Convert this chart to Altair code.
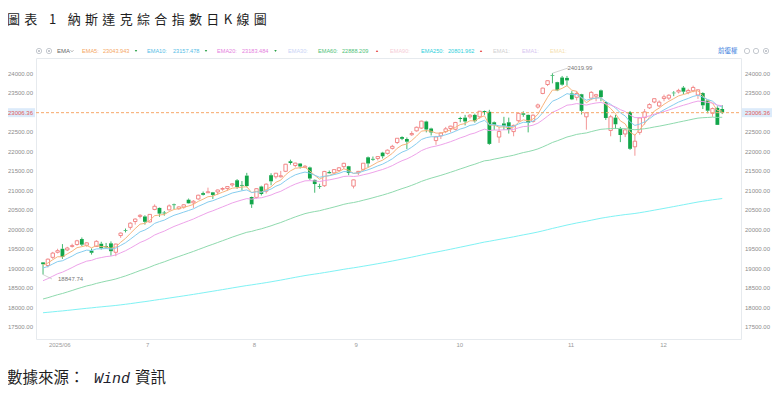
import altair as alt
import pandas as pd

# ---------------- data ----------------
opens = [19160, 19080, 19290, 19420, 19510, 19480, 19570, 19620, 19760, 19600,
         19460, 19570, 19640, 19580, 19650, 19420, 19850, 19990, 20060, 20210,
         20340, 20340, 20200, 20520, 20560, 20440, 20510, 20650, 20540, 20580,
         20770, 20690, 20790, 20940, 20950, 20960, 20970, 21040, 21060, 21150,
         21270, 21150, 21390, 20840, 20830, 21110, 20990, 21400, 21360, 21360,
         21500, 21760, 21650, 21700, 21600, 21600, 21280, 21120, 21130, 21480,
         21460, 21520, 21620, 21630, 21120, 21460, 21550, 21860, 21820, 21830,
         21980, 21960, 22090, 22240, 22380, 22330, 22440, 22540, 22610, 22780,
         22600, 22290, 22410, 22520, 22600, 22580, 22870, 22880, 22900, 22950,
         22900, 23050, 23030, 22760, 22380, 22730, 22760, 22520, 22800, 22990,
         22950, 22780, 23150, 23500, 23730, 23975, 23790, 23910, 23900, 23500,
         23400, 23480, 22900, 23380, 23430, 23580, 23280, 22550, 22880, 22600,
         22460, 23020, 22130, 22500, 22880, 23130, 23280, 23180, 23370, 23380,
         23520, 23540, 23650, 23530, 23570, 23460, 23510, 23320, 22990, 23130,
         23100]
highs = [19170, 19260, 19430, 19510, 19630, 19560, 19640, 19740, 19800, 19680,
         19520, 19730, 19690, 19660, 19700, 19640, 19930, 20030, 20190, 20290,
         20400, 20370, 20400, 20650, 20570, 20480, 20650, 20670, 20600, 20660,
         20800, 20760, 20900, 20980, 21080, 20970, 21030, 21090, 21110, 21200,
         21300, 21250, 21460, 20850, 21070, 21130, 21190, 21450, 21460, 21510,
         21690, 21800, 21720, 21710, 21660, 21620, 21290, 21180, 21510, 21520,
         21550, 21610, 21720, 21640, 21290, 21510, 21710, 21880, 21880, 21890,
         22000, 22060, 22180, 22350, 22400, 22370, 22530, 22650, 22800, 22800,
         22620, 22410, 22500, 22640, 22670, 22770, 22900, 22950, 22970, 22980,
         23050, 23060, 23080, 22780, 22640, 22900, 22880, 22700, 23000, 23040,
         22960, 22960, 23240, 23650, 23840, 24019.99, 23800, 23950, 23950, 23560,
         23560, 23490, 23010, 23560, 23490, 23600, 23290, 22950, 22950, 22640,
         22600, 23050, 22450, 22890, 23100, 23250, 23370, 23320, 23470, 23480,
         23560, 23620, 23690, 23620, 23700, 23600, 23530, 23340, 23140, 23170,
         23200]
lows = [18847.74, 19030, 19250, 19390, 19250, 19450, 19540, 19590, 19580, 19560,
        19360, 19560, 19490, 19520, 19330, 19320, 19790, 19930, 20000, 20130,
        20290, 20130, 20180, 20500, 20330, 20360, 20500, 20530, 20510, 20540,
        20670, 20560, 20770, 20880, 20940, 20790, 20890, 21000, 21000, 21100,
        21050, 21010, 21090, 20560, 20800, 20880, 20930, 21140, 21310, 21340,
        21480, 21670, 21600, 21570, 21580, 21280, 20950, 21050, 21100, 21440,
        21420, 21500, 21560, 21400, 21060, 21400, 21500, 21600, 21770, 21780,
        21830, 21930, 22060, 22200, 22300, 22070, 22410, 22520, 22590, 22500,
        22420, 22180, 22330, 22480, 22500, 22550, 22760, 22680, 22850, 22750,
        22850, 22950, 22180, 22560, 22230, 22560, 22470, 22400, 22770, 22900,
        22500, 22750, 23110, 23480, 23690, 23760, 23560, 23700, 23700, 23330,
        23320, 22960, 22570, 23330, 23300, 23300, 22820, 22400, 22590, 22250,
        22380, 22050, 21900, 22440, 22700, 23100, 23250, 23150, 23300, 23330,
        23430, 23500, 23480, 23480, 23530, 23360, 23100, 22990, 22900, 22690,
        22970]
closes = [19113.77, 19242.61, 19398.96, 19460.49, 19298.45, 19529.95, 19591.24, 19714.99, 19615.88, 19662.49,
          19406.83, 19701.21, 19521.09, 19546.27, 19447.41, 19630.97, 19912.53, 19973.55, 20167.91, 20273.46,
          20369.73, 20202.89, 20393.13, 20601.10, 20412.52, 20418.46, 20611.34, 20630.67, 20585.53, 20640.33,
          20677.80, 20730.49, 20885.65, 20895.66, 20974.17, 20892.69, 21020.02, 21057.96, 21108.32, 21178.58,
          21098.29, 21129.67, 21122.45, 20650.13, 21053.58, 20916.55, 21169.42, 21242.70, 21450.02, 21385.40,
          21681.90, 21713.14, 21710.67, 21622.98, 21629.77, 21314.95, 21172.86, 21100.31, 21496.54, 21449.29,
          21544.27, 21590.14, 21705.16, 21455.55, 21279.63, 21497.73, 21707.69, 21700.39, 21798.70, 21879.49,
          21886.06, 22043.07, 22141.10, 22348.75, 22333.96, 22261.33, 22470.73, 22631.48, 22788.98, 22573.47,
          22497.86, 22384.70, 22484.07, 22591.15, 22660.01, 22755.16, 22844.05, 22780.51, 22941.67, 22788.36,
          23043.38, 23024.63, 22204.43, 22694.61, 22521.70, 22670.08, 22562.54, 22679.97, 22990.54, 22953.67,
          22740.40, 22941.80, 23204.87, 23637.46, 23827.49, 23958.47, 23581.14, 23724.96, 23834.72, 23348.64,
          23499.80, 23053.99, 23004.54, 23527.17, 23468.30, 23406.46, 22870.36, 22900.59, 22708.07, 22432.85,
          22564.23, 22078.05, 22273.08, 22872.01, 23025.59, 23214.69, 23365.69, 23275.92, 23413.67, 23454.09,
          23505.14, 23578.13, 23545.90, 23576.49, 23654.16, 23593.86, 23195.17, 23057.41, 23111.46, 22693.32,
          23006.36]

month_starts = [1, 21, 43, 64, 85, 108, 127]          # trading-day index of each month's first session
month_labels = ["2025/06", "7", "8", "9", "10", "11", "12"]
price_ticks = [17500, 18000, 18500, 19000, 19500, 20000, 20500,
               21000, 21500, 22000, 22500, 23000, 23500, 24000]

ema_names = ["EMA5", "EMA10", "EMA20", "EMA60", "EMA250"]
ema_periods = [5, 10, 20, 60, 250]
ema_first = [19093, 19015, 18690, 18220, 17867]       # EMA level on the first candle

legend_names = ["EMA5:", "EMA10:", "EMA20:", "EMA30:", "EMA60:", "EMA90:", "EMA250:", "EMA1:", "EMA1:", "EMA1:"]
legend_values = ["23043.943", "23157.478", "23183.484", "", "22888.209", "", "20801.962", "", "", ""]

# ---------------- styling / layout ----------------
W, H = 705, 281
RED = "#f07c7c"
GREEN = "#12a64a"
GRID = "#eff2f5"
AXC = "#8c8c8c"
ema_colors = ["#f8b47c", "#86cdef", "#eea3ea", "#8fdaae", "#7ff2f4"]
legend_colors = ["#f5a764", "#56bde6", "#e580de", "#c9d3f5", "#4fbf79", "#f5cdd6", "#2fd0dc", "#d0d0d0", "#d6c6f0", "#f5dfb0"]
legend_name_x = [46, 111, 181, 252, 282, 354, 385, 457, 486, 514]
legend_value_x = [67, 137, 206, None, 306, None, 412, None, None, None]
HDR_Y = -7
CJK = "Noto Sans CJK TC"
LAT = "Liberation Sans"

xs = alt.Scale(domain=[-0.42, 142.84], nice=False, zero=False)
ys = alt.Scale(domain=[17192, 24411], nice=False, zero=False)

n = len(closes)
df = pd.DataFrame({"i": list(range(n)), "open": opens, "high": highs, "low": lows, "close": closes})
df["top"] = df[["open", "close"]].max(axis=1)
df["bot"] = df[["open", "close"]].min(axis=1)
df["dir"] = ["up" if c >= o else "down" for o, c in zip(opens, closes)]

# exponential moving averages of the closes
ema_frames = {}
for name, p, start in zip(ema_names, ema_periods, ema_first):
    a = 2.0 / (p + 1)
    vals = []
    v = start
    for k, c in enumerate(closes):
        if k > 0:
            v = a * c + (1 - a) * v
        vals.append(v)
    ema_frames[name] = pd.DataFrame({"i": list(range(n)), "ema": vals})

X = lambda f="i": alt.X(f"{f}:Q", scale=xs, axis=None)
Y = lambda f: alt.Y(f"{f}:Q", scale=ys, axis=None)

base = alt.Chart(df)

# grid carrier (invisible marks)
axes = base.mark_point(opacity=0).encode(
    x=alt.X("i:Q", scale=xs,
            axis=alt.Axis(values=month_starts, grid=True, gridColor=GRID, labels=False,
                          ticks=False, domain=False, title=None)),
    y=alt.Y("close:Q", scale=ys,
            axis=alt.Axis(values=price_ticks, grid=True, gridColor=GRID, labels=False,
                          ticks=False, domain=False, title=None)),
)

layers = [axes]
for d, col in [("up", RED), ("down", GREEN)]:
    sub = base.transform_filter(alt.datum.dir == d)
    layers.append(sub.mark_rule(color=col, strokeWidth=0.8).encode(x=X(), y=Y("high"), y2="top:Q"))
    layers.append(sub.mark_rule(color=col, strokeWidth=0.8).encode(x=X(), y=Y("bot"), y2="low:Q"))
    if d == "up":
        layers.append(sub.mark_bar(size=3.4, fill="white", stroke=col, strokeWidth=0.9)
                      .encode(x=X(), y=Y("open"), y2="close:Q"))
    else:
        layers.append(sub.mark_bar(size=3.8, color=col).encode(x=X(), y=Y("open"), y2="close:Q"))

for name, col in zip(ema_names, ema_colors):
    layers.append(alt.Chart(ema_frames[name]).mark_line(color=col, strokeWidth=1)
                  .encode(x=X(), y=Y("ema")))

# price labels on both sides
side_ticks = pd.DataFrame({"v": [t for t in price_ticks if t != 23000]})
tc = alt.Chart(side_ticks)
layers += [
    tc.mark_text(align="right", baseline="middle", fontSize=6, color=AXC, font=LAT)
      .encode(y=Y("v"), x=alt.value(-3), text=alt.Text("v:Q", format=".2f")),
    tc.mark_text(align="left", baseline="middle", fontSize=6, color=AXC, font=LAT)
      .encode(y=Y("v"), x=alt.value(W + 4), text=alt.Text("v:Q", format=".2f")),
]

# last price line and tags
last = pd.DataFrame({"v": [closes[-1]]})
lc = alt.Chart(last)
layers += [
    lc.mark_rule(color="#f7a768", strokeDash=[3, 2], strokeWidth=1).encode(y=Y("v"), x=alt.value(0), x2=alt.value(W)),
    lc.mark_rule(color="#dcebfa", strokeWidth=9, strokeCap="butt").encode(y=Y("v"), x=alt.value(-31), x2=alt.value(-1)),
    lc.mark_rule(color="#dcebfa", strokeWidth=9, strokeCap="butt").encode(y=Y("v"), x=alt.value(W + 1), x2=alt.value(W + 31)),
    lc.mark_text(align="right", baseline="middle", fontSize=6, color="#e05a5a", font=LAT)
      .encode(y=Y("v"), x=alt.value(-3), text=alt.Text("v:Q", format=".2f")),
    lc.mark_text(align="left", baseline="middle", fontSize=6, color="#e05a5a", font=LAT)
      .encode(y=Y("v"), x=alt.value(W + 4), text=alt.Text("v:Q", format=".2f")),
]

# month labels
months = pd.DataFrame({"i": month_starts, "t": month_labels})
layers.append(alt.Chart(months).mark_text(align="left", baseline="middle", fontSize=6, color="#9a9a9a", font=LAT, dx=1)
              .encode(x=X(), y=alt.value(H + 6), text="t:N"))

# max / min markers
imax = highs.index(max(highs))
imin = lows.index(min(lows))
hi_df = pd.DataFrame({"i": [imax], "v": [highs[imax]]})
lo_df = pd.DataFrame({"i": [imin], "v": [lows[imin]]})
layers += [
    alt.Chart(hi_df).mark_rule(color="#b5b5b5", strokeWidth=0.6).encode(x=X(), y=Y("v"), x2=alt.value(532), y2=alt.value(10)),
    alt.Chart(hi_df).mark_text(align="left", baseline="middle", fontSize=6, color="#777", font=LAT, dx=15, dy=-5)
        .encode(x=X(), y=Y("v"), text=alt.Text("v:Q", format=".2f")),
    alt.Chart(lo_df).mark_rule(color="#b5b5b5", strokeWidth=0.6).encode(x=X(), y=Y("v"), x2=alt.value(16), y2=alt.value(221)),
    alt.Chart(lo_df).mark_text(align="left", baseline="middle", fontSize=6, color="#777", font=LAT, dx=15, dy=4.5)
        .encode(x=X(), y=Y("v"), text=alt.Text("v:Q", format=".2f")),
]

one = pd.DataFrame({"k": [0]})


def label(text, x, y, color, size=6, align="left", font=LAT, **kw):
    return alt.Chart(one).mark_text(text=text, align=align, baseline="middle", fontSize=size,
                                    color=color, font=font, **kw).encode(x=alt.value(x), y=alt.value(y))


def dot(x, y, shape, color, size, filled=True, sw=0.8):
    return alt.Chart(one).mark_point(shape=shape, filled=filled, size=size, color=color,
                                     strokeWidth=sw, opacity=1).encode(x=alt.value(x), y=alt.value(y))


# header bar
layers += [dot(3, HDR_Y, "circle", "#b8bcc4", 28, filled=False), dot(3, HDR_Y, "circle", "#b8bcc4", 5),
           dot(13, HDR_Y, "circle", "#b8bcc4", 28, filled=False), dot(13, HDR_Y, "circle", "#b8bcc4", 5),
           label("EMA", 21, HDR_Y, "#666666"),
           dot(36, HDR_Y, "M-1,-0.5L0,0.5L1,-0.5", "#888888", 8, filled=False, sw=0.7)]
for k, (nm, val) in enumerate(zip(legend_names, legend_values)):
    layers.append(label(nm, legend_name_x[k], HDR_Y, legend_colors[k], size=5.6))
    if val:
        layers.append(label(val, legend_value_x[k], HDR_Y, legend_colors[k], size=5.6))
tri = [(100, "triangle-down", "#2ca24a"), (170, "triangle-down", "#2ca24a"), (239.5, "triangle-down", "#2ca24a"),
       (341, "triangle-up", "#e84a4a"), (445, "triangle-up", "#e84a4a")]
for x, shp, col in tri:
    layers.append(dot(x, HDR_Y, shp, col, 6))
layers += [label("前復權", 682, HDR_Y, "#3d7fe0", size=6.5, font=CJK),
           dot(711, HDR_Y, "circle", "#b8bcc4", 28, filled=False),
           dot(720, HDR_Y, "circle", "#b8bcc4", 28, filled=False),
           dot(730, HDR_Y, "circle", "#b8bcc4", 28, filled=False), dot(730, HDR_Y, "circle", "#b8bcc4", 5)]

# title and source
title_text = "\u2004".join(list("圖表 1 納斯達克綜合指數日K線圖"))
layers += [label(title_text, -29, -38, "#1e1e1e", size=13, font=CJK),
           label("數據來源：", -29, 320, "#1e1e1e", size=15.5, font=CJK),
           label("Wind", 58, 320, "#1e1e2e", size=15, font="Liberation Mono", fontStyle="italic"),
           label("資訊", 99, 320, "#1e1e1e", size=15.5, font=CJK)]

chart = alt.layer(*layers).properties(
    width=W, height=H,
    autosize=alt.AutoSizeParams(type="none"),
    padding={"left": 28, "top": 50, "right": 34, "bottom": 50},
    background="white",
).configure_view(stroke="#e6eaee", strokeWidth=1)

chart.save("out.html", embed_options={"renderer": "svg", "actions": False})
